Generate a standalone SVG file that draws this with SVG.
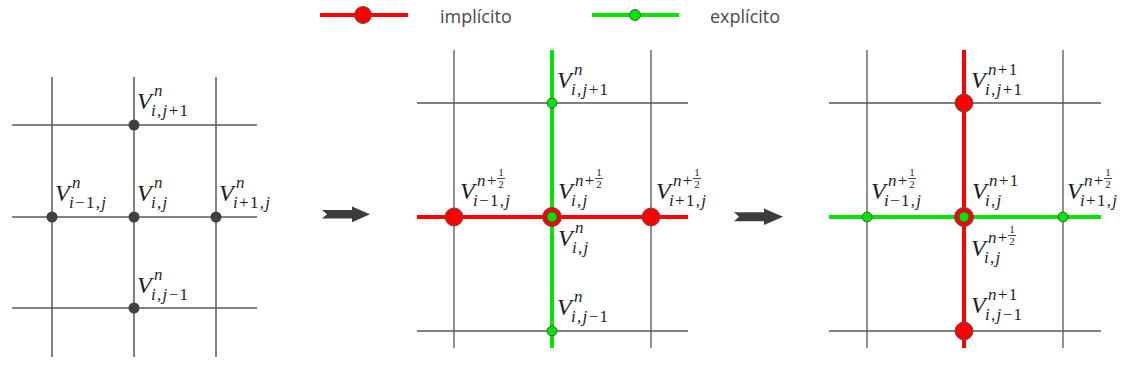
<svg xmlns="http://www.w3.org/2000/svg" width="1126" height="385" viewBox="0 0 1126 385">
<style>
.grid{stroke:#555;stroke-width:1.3;fill:none}
.grid1{stroke:#5a5a5a;stroke-width:1.5;fill:none}
.red{stroke:#ff0000;stroke-width:4;fill:none}
.green{stroke:#00e600;stroke-width:4;fill:none}
.dot{fill:#404040}
.imp{fill:#ff0000;stroke:#555;stroke-width:1}
.exp{fill:#00e600;stroke:#555;stroke-width:1}
.arrow{fill:#3c3c3c}
.leg{font-family:"Open Sans","Noto Sans",sans-serif;font-size:18px;fill:#4a4a4a}
.V{font-family:"Liberation Serif",serif;font-style:italic;font-size:24px;fill:#1e1e1e}
.s{font-family:"Liberation Serif",serif;font-size:17px;fill:#1e1e1e;letter-spacing:1.3px}
.f{font-family:"Liberation Serif",serif;font-size:11px;fill:#1e1e1e;text-anchor:middle}
.bar{stroke:#1e1e1e;stroke-width:0.8}
.it{font-style:italic}
</style>

<g id="legend">
  <line class="red" x1="320" y1="15" x2="408" y2="15"/>
  <circle class="imp" cx="363" cy="15" r="8.5"/>
  <text class="leg" x="440" y="23">implícito</text>
  <line class="green" x1="592" y1="15" x2="679" y2="15"/>
  <circle class="exp" cx="635" cy="15" r="5.5"/>
  <text class="leg" x="710" y="23">explícito</text>
</g>

<g id="connectors">
  <!-- panel 1 grid -->
  <line class="grid1" x1="52" y1="77" x2="52" y2="357"/>
  <line class="grid1" x1="134" y1="77" x2="134" y2="357"/>
  <line class="grid1" x1="216" y1="77" x2="216" y2="357"/>
  <line class="grid1" x1="12" y1="125" x2="257" y2="125"/>
  <line class="grid1" x1="12" y1="217" x2="257" y2="217"/>
  <line class="grid1" x1="12" y1="308" x2="257" y2="308"/>
  <!-- panel 2 grid -->
  <line class="grid" x1="454" y1="50" x2="454" y2="348"/>
  <line class="grid" x1="651" y1="50" x2="651" y2="348"/>
  <line class="grid" x1="417" y1="103" x2="688" y2="103"/>
  <line class="grid" x1="417" y1="331" x2="688" y2="331"/>
  <line class="red" x1="417" y1="217" x2="688" y2="217"/>
  <line class="green" x1="552" y1="50" x2="552" y2="348"/>
  <!-- panel 3 grid -->
  <line class="grid" x1="867" y1="50" x2="867" y2="348"/>
  <line class="grid" x1="1063" y1="50" x2="1063" y2="348"/>
  <line class="grid" x1="829" y1="103" x2="1101" y2="103"/>
  <line class="grid" x1="829" y1="331" x2="1101" y2="331"/>
  <line class="green" x1="829" y1="217" x2="1101" y2="217"/>
  <line class="red" x1="964" y1="50" x2="964" y2="348"/>
  <!-- step arrows -->
  <polygon class="arrow" points="322,210 352,210 352,206.5 370,214.3 352,222.3 352,218.5 322,218.5 327,214.3"/>
  <polygon class="arrow" points="734,212.3 764,212.3 764,208.5 783,216.7 764,225 764,221.3 734,221.3 739,216.7"/>
</g>

<!-- Panel 1 -->
<g id="p1-top">
  <circle class="dot" cx="134" cy="125" r="5.5"/>
  <text class="V" x="137" y="109">V</text>
  <text class="s" x="154" y="96"><tspan class="it">n</tspan></text>
  <text class="s" x="151" y="116"><tspan class="it">i</tspan>,<tspan class="it">j</tspan>+1</text>
</g>
<g id="p1-left">
  <circle class="dot" cx="52" cy="217" r="5.5"/>
  <text class="V" x="55" y="201">V</text>
  <text class="s" x="72" y="188"><tspan class="it">n</tspan></text>
  <text class="s" x="69" y="208"><tspan class="it">i</tspan>−1,<tspan class="it">j</tspan></text>
</g>
<g id="p1-center">
  <circle class="dot" cx="134" cy="217" r="5.5"/>
  <text class="V" x="137" y="201">V</text>
  <text class="s" x="154" y="188"><tspan class="it">n</tspan></text>
  <text class="s" x="151" y="208"><tspan class="it">i</tspan>,<tspan class="it">j</tspan></text>
</g>
<g id="p1-right">
  <circle class="dot" cx="216" cy="217" r="5.5"/>
  <text class="V" x="219" y="201">V</text>
  <text class="s" x="236" y="188"><tspan class="it">n</tspan></text>
  <text class="s" x="233" y="208"><tspan class="it">i</tspan>+1,<tspan class="it">j</tspan></text>
</g>
<g id="p1-bottom">
  <circle class="dot" cx="134" cy="308" r="5.5"/>
  <text class="V" x="137" y="293">V</text>
  <text class="s" x="154" y="280"><tspan class="it">n</tspan></text>
  <text class="s" x="151" y="300"><tspan class="it">i</tspan>,<tspan class="it">j</tspan>−1</text>
</g>

<!-- Panel 2 -->
<g id="p2-top">
  <circle class="exp" cx="552" cy="103" r="5"/>
  <text class="V" x="557" y="88">V</text>
  <text class="s" x="574" y="75"><tspan class="it">n</tspan></text>
  <text class="s" x="571" y="95"><tspan class="it">i</tspan>,<tspan class="it">j</tspan>+1</text>
</g>
<g id="p2-left">
  <circle class="imp" cx="454" cy="217" r="9"/>
  <text class="V" x="460" y="199">V</text>
  <text class="s" x="477" y="186"><tspan class="it">n</tspan>+</text>
  <text class="f" x="501" y="176">1</text>
  <line class="bar" x1="497" y1="178.5" x2="505" y2="178.5"/>
  <text class="f" x="501" y="188">2</text>
  <text class="s" x="473" y="206"><tspan class="it">i</tspan>−1,<tspan class="it">j</tspan></text>
</g>
<g id="p2-center">
  <circle class="imp" cx="552" cy="217" r="9.5"/>
  <circle class="exp" cx="552" cy="217" r="5"/>
  <text class="V" x="558" y="199">V</text>
  <text class="s" x="575" y="186"><tspan class="it">n</tspan>+</text>
  <text class="f" x="599" y="176">1</text>
  <line class="bar" x1="595" y1="178.5" x2="603" y2="178.5"/>
  <text class="f" x="599" y="188">2</text>
  <text class="s" x="571" y="206"><tspan class="it">i</tspan>,<tspan class="it">j</tspan></text>
  <text class="V" x="558" y="246">V</text>
  <text class="s" x="575" y="233"><tspan class="it">n</tspan></text>
  <text class="s" x="572" y="253"><tspan class="it">i</tspan>,<tspan class="it">j</tspan></text>
</g>
<g id="p2-right">
  <circle class="imp" cx="651" cy="217" r="9"/>
  <text class="V" x="656" y="199">V</text>
  <text class="s" x="673" y="186"><tspan class="it">n</tspan>+</text>
  <text class="f" x="697" y="176">1</text>
  <line class="bar" x1="693" y1="178.5" x2="701" y2="178.5"/>
  <text class="f" x="697" y="188">2</text>
  <text class="s" x="669" y="206"><tspan class="it">i</tspan>+1,<tspan class="it">j</tspan></text>
</g>
<g id="p2-bottom">
  <circle class="exp" cx="552" cy="331" r="5"/>
  <text class="V" x="557" y="315">V</text>
  <text class="s" x="574" y="302"><tspan class="it">n</tspan></text>
  <text class="s" x="571" y="322"><tspan class="it">i</tspan>,<tspan class="it">j</tspan>−1</text>
</g>

<!-- Panel 3 -->
<g id="p3-top">
  <circle class="imp" cx="964" cy="103" r="9"/>
  <text class="V" x="971" y="88">V</text>
  <text class="s" x="988" y="75"><tspan class="it">n</tspan>+1</text>
  <text class="s" x="985" y="95"><tspan class="it">i</tspan>,<tspan class="it">j</tspan>+1</text>
</g>
<g id="p3-left">
  <circle class="exp" cx="867" cy="217" r="5"/>
  <text class="V" x="871" y="199">V</text>
  <text class="s" x="888" y="186"><tspan class="it">n</tspan>+</text>
  <text class="f" x="912" y="176">1</text>
  <line class="bar" x1="908" y1="178.5" x2="916" y2="178.5"/>
  <text class="f" x="912" y="188">2</text>
  <text class="s" x="884" y="206"><tspan class="it">i</tspan>−1,<tspan class="it">j</tspan></text>
</g>
<g id="p3-center">
  <circle class="imp" cx="964" cy="217" r="9.5"/>
  <circle class="exp" cx="964" cy="217" r="5"/>
  <text class="V" x="972" y="199">V</text>
  <text class="s" x="989" y="186"><tspan class="it">n</tspan>+1</text>
  <text class="s" x="985" y="206"><tspan class="it">i</tspan>,<tspan class="it">j</tspan></text>
  <text class="V" x="971" y="256">V</text>
  <text class="s" x="988" y="243"><tspan class="it">n</tspan>+</text>
  <text class="f" x="1012" y="233">1</text>
  <line class="bar" x1="1008" y1="235.5" x2="1016" y2="235.5"/>
  <text class="f" x="1012" y="245">2</text>
  <text class="s" x="984" y="263"><tspan class="it">i</tspan>,<tspan class="it">j</tspan></text>
</g>
<g id="p3-right">
  <circle class="exp" cx="1063" cy="217" r="5"/>
  <text class="V" x="1067" y="199">V</text>
  <text class="s" x="1084" y="186"><tspan class="it">n</tspan>+</text>
  <text class="f" x="1108" y="176">1</text>
  <line class="bar" x1="1104" y1="178.5" x2="1112" y2="178.5"/>
  <text class="f" x="1108" y="188">2</text>
  <text class="s" x="1080" y="206"><tspan class="it">i</tspan>+1,<tspan class="it">j</tspan></text>
</g>
<g id="p3-bottom">
  <circle class="imp" cx="964" cy="331" r="9"/>
  <text class="V" x="971" y="313">V</text>
  <text class="s" x="988" y="300"><tspan class="it">n</tspan>+1</text>
  <text class="s" x="985" y="320"><tspan class="it">i</tspan>,<tspan class="it">j</tspan>−1</text>
</g>
</svg>
